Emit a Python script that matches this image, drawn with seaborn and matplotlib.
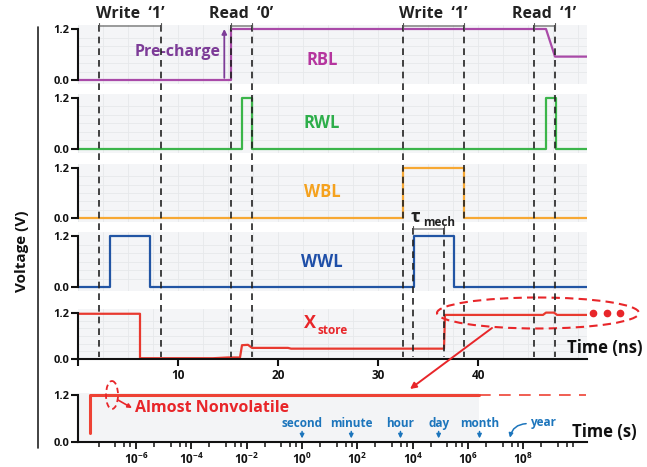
import matplotlib
matplotlib.use("Agg")
import matplotlib.pyplot as plt
from matplotlib.patches import Ellipse
from matplotlib.lines import Line2D
from matplotlib.ticker import FixedLocator, LogLocator, NullFormatter, MultipleLocator
import seaborn as sns

# --- Datos: formas de onda (ns, V) ---
t_rbl = [0, 15.3, 15.3, 46.8, 47.7, 50.9]
v_rbl = [0.0, 0.0, 1.2, 1.2, 0.55, 0.55]
t_rwl = [0, 16.4, 16.4, 17.4, 17.4, 46.8, 46.8, 47.8, 47.8, 50.9]
v_rwl = [0.0, 0.0, 1.2, 1.2, 0.0, 0.0, 1.2, 1.2, 0.0, 0.0]
t_wbl = [0, 32.5, 32.5, 38.6, 38.6, 50.9]
v_wbl = [0.0, 0.0, 1.2, 1.2, 0.0, 0.0]
t_wwl = [0, 3.2, 3.2, 7.2, 7.2, 33.6, 33.6, 37.6, 37.6, 50.9]
v_wwl = [0.0, 0.0, 1.2, 1.2, 0.0, 0.0, 1.2, 1.2, 0.0, 0.0]
t_xs = [0, 6.2, 6.2, 13.5, 15.0, 16.2, 16.4, 17.0, 17.4, 21.0, 21.3, 36.6, 36.7,
        46.5, 46.8, 47.6, 47.9, 50.9]
v_xs = [1.18, 1.18, 0.02, 0.02, 0.04, 0.04, 0.36, 0.37, 0.29, 0.29, 0.27, 0.27, 1.15,
        1.15, 1.21, 1.21, 1.15, 1.15]

# retencion (s, V)
t_ret = [2.2e-8, 2.2e-8, 2.4e6]
v_ret = [0.22, 1.2, 1.2]
t_ret_ext = [2.4e6, 1.8e10]
v_ret_ext = [1.2, 1.2]

events = [2.1, 8.3, 15.3, 17.4, 32.5, 38.6, 45.6, 47.7]
tau_mech = [33.5, 36.6]
ops = ["Write  \u20181\u2019", "Read  \u20180\u2019", "Write  \u20181\u2019", "Read  \u20181\u2019"]

marks = ["second", "minute", "hour", "day", "month", "year"]
mark_t = [1, 60, 3600, 86400, 2.6e6, 3.15e7]

W, H = 647, 467
X0, X1 = 78, 587
T_MAX = 50.9
LOG_LIM = (10 ** -8.1, 10 ** 10.3)

sns.set_style("ticks")
plt.rcParams["font.family"] = ["Open Sans", "DejaVu Sans"]
plt.rcParams["font.weight"] = "bold"
plt.rcParams["mathtext.fontset"] = "custom"
plt.rcParams["mathtext.rm"] = "Open Sans:bold"
plt.rcParams["mathtext.bf"] = "Open Sans:bold"
plt.rcParams["axes.linewidth"] = 1.5

fig = plt.figure(figsize=(W / 100, H / 100), dpi=100)


def add_panel(y12, y0, lo=-0.1, hi=1.3):
    pxv = (y0 - y12) / 1.2
    top = y12 - (hi - 1.2) * pxv
    bot = y0 - lo * pxv
    ax = fig.add_axes([X0 / W, 1 - bot / H, (X1 - X0) / W, (bot - top) / H])
    ax.set_ylim(lo, hi)
    return ax


def style_left(ax):
    for s in ["top", "right", "bottom"]:
        ax.spines[s].set_visible(False)
    ax.spines["left"].set_bounds(0, 1.2)
    ax.spines["left"].set_color("#111111")
    ax.set_yticks([0, 1.2])
    ax.set_yticklabels(["0.0", "1.2"])
    ax.tick_params(axis="y", which="major", length=5, width=1.5, labelsize=8,
                   colors="#111111", pad=1)
    ax.tick_params(which="minor", length=0)
    ax.set_xlabel("")
    ax.set_ylabel("")


panels = [
    ("RBL", t_rbl, v_rbl, "#A94AA8", "#B5359E", 29, 80, 0.47),
    ("RWL", t_rwl, v_rwl, "#3BB54A", "#2DAE4A", 98, 149, 0.6),
    ("WBL", t_wbl, v_wbl, "#F7A833", "#F5A21E", 168, 218, 0.63),
    ("WWL", t_wwl, v_wwl, "#2255A4", "#1F4FA8", 236, 287, 0.59),
]

axes = []
for name, t, v, col, lcol, y12, y0, ly in panels:
    ax = add_panel(y12, y0)
    ax.set_facecolor("#f4f5f7")
    ax.set_xlim(0, T_MAX)
    ax.xaxis.set_minor_locator(MultipleLocator(2.5))
    ax.yaxis.set_minor_locator(MultipleLocator(0.2))
    ax.grid(which="minor", color="#e6e8eb", lw=0.6)
    sns.lineplot(x=t, y=v, ax=ax, color=col, lw=1.6, estimator=None, sort=False)
    ax.set_xticks([])
    style_left(ax)
    ax.text(24.4, ly, name, color=lcol, fontsize=12, fontweight="bold",
            ha="center", va="center")
    axes.append(ax)

# panel Xstore con eje de tiempo
ax_x = add_panel(313, 359, lo=0.0)
ax_x.set_facecolor("#f4f5f7")
ax_x.set_xlim(0, T_MAX)
ax_x.xaxis.set_minor_locator(MultipleLocator(2.5))
ax_x.yaxis.set_minor_locator(MultipleLocator(0.2))
ax_x.grid(which="minor", color="#e6e8eb", lw=0.6)
sns.lineplot(x=t_xs, y=v_xs, ax=ax_x, color="#E8392F", lw=1.6, estimator=None, sort=False)
style_left(ax_x)
ax_x.spines["bottom"].set_visible(True)
ax_x.spines["bottom"].set_color("#111111")
ax_x.set_xticks([0, 10, 20, 30, 40])
ax_x.set_xticklabels(["", "10", "20", "30", "40"])
ax_x.tick_params(axis="x", which="major", length=5, width=1.5, labelsize=8.5,
                 colors="#111111", pad=2)

# panel de retencion (escala log)
ax_r = add_panel(395, 442, lo=0.0)
ax_r.set_facecolor("white")
ax_r.set_xscale("log")
ax_r.set_xlim(*LOG_LIM)
ax_r.axvspan(LOG_LIM[0], t_ret[-1], ymax=1.26 / 1.3, color="#f3f4f6", lw=0)
sns.lineplot(x=t_ret, y=v_ret, ax=ax_r, color="#EE4235", lw=2.2, estimator=None, sort=False)
ax_r.plot(t_ret_ext, v_ret_ext, color="#EE4235", lw=1.2, ls=(0, (7, 5)))
style_left(ax_r)
ax_r.spines["bottom"].set_visible(True)
ax_r.spines["bottom"].set_color("#111111")
ax_r.xaxis.set_major_locator(FixedLocator([10.0 ** k for k in range(-6, 9, 2)]))
ax_r.set_xticklabels([r"$\mathbf{10^{%d}}$" % k for k in range(-6, 9, 2)])
ax_r.xaxis.set_minor_locator(LogLocator(base=100, subs=[4.5, 18, 38, 62], numticks=20))
ax_r.xaxis.set_minor_formatter(NullFormatter())
ax_r.tick_params(axis="x", which="major", length=5, width=1.3, labelsize=8.5,
                 colors="#111111", pad=2)
ax_r.tick_params(axis="x", which="minor", length=3.5, width=1.1, color="#111111")

blue = "#1C75BC"
for lab, tm in zip(marks[:-1], mark_t[:-1]):
    ax_r.annotate("", xy=(tm, 0.02), xytext=(tm, 0.34),
                  arrowprops=dict(arrowstyle="-|>", color=blue, lw=1.1, mutation_scale=6))
    ax_r.text(tm, 0.48, lab, color=blue, fontsize=8.5, fontweight="bold",
              ha="center", va="center")
ax_r.annotate("", xy=(mark_t[-1], 0.04), xytext=(10 ** 8.2, 0.47),
              arrowprops=dict(arrowstyle="-|>", color=blue, lw=1.1, mutation_scale=6,
                              connectionstyle="arc3,rad=0.45"))
ax_r.text(10 ** 8.25, 0.5, marks[-1], color=blue, fontsize=8.5, fontweight="bold",
          ha="left", va="center")

# capa superior: x en ns, y en pixeles
ov = fig.add_axes([X0 / W, 0, (X1 - X0) / W, 1])
ov.set_xlim(0, T_MAX)
ov.set_ylim(H, 0)
ov.axis("off")
ov.patch.set_alpha(0)
ov.set_zorder(10)

ov.vlines(events, 25, 357, colors="#222222", linestyles=(0, (4, 3)), lw=1.2)
ov.vlines(tau_mech, 228, 357, colors="#222222", linestyles=(0, (4, 3)), lw=1.2)

for i, lab in enumerate(ops):
    a, b = events[2 * i], events[2 * i + 1]
    ov.text((a + b) / 2, 14, lab, fontsize=11.5, fontweight="bold", color="#222222",
            ha="center", va="center")
    ov.annotate("", xy=(a, 26), xytext=(b, 26),
                arrowprops=dict(arrowstyle="|-|", color="#555555", lw=0.8,
                                mutation_scale=2.5, shrinkA=0, shrinkB=0))

ov.annotate("", xy=(tau_mech[0], 229), xytext=(tau_mech[1], 229),
            arrowprops=dict(arrowstyle="|-|", color="#555555", lw=0.8,
                            mutation_scale=2.5, shrinkA=0, shrinkB=0))
ov.text(33.3, 217, "\u03c4", fontsize=13, fontweight="bold", color="#222222",
        ha="left", va="center")
ov.text(34.5, 222, "mech", fontsize=8.5, fontweight="bold", color="#222222",
        ha="left", va="center")

# Pre-charge
axes[0].annotate("", xy=(14.63, 1.2), xytext=(14.63, 0.05),
                 arrowprops=dict(arrowstyle="-|>", color="#7D3C98", lw=1.3,
                                 mutation_scale=7, shrinkA=0, shrinkB=0))
axes[0].text(10.0, 0.66, "Pre-charge", fontsize=11.5, fontweight="bold",
             color="#7D3C98", ha="center", va="center")

# Xstore
ov.text(22.6, 323, "X", fontsize=13, fontweight="bold", color="#E8262A",
        ha="left", va="center")
ov.text(24.0, 331, "store", fontsize=8.5, fontweight="bold", color="#E8262A",
        ha="left", va="center")

ov.add_patch(Ellipse((46.0, 313), 20.2, 31, fill=False, ec="#E8262A", lw=1.5,
                     ls=(0, (4, 2.5)), clip_on=False))
ov.plot([51.5, 52.9, 54.2], [313, 313, 313], "o", color="#E8262A", ms=4.5, clip_on=False)
ov.annotate("", xy=(33.2, 389), xytext=(41.4, 328),
            arrowprops=dict(arrowstyle="-|>", color="#E8262A", lw=1.4,
                            mutation_scale=9, shrinkA=0, shrinkB=0))

ov.add_patch(Ellipse((3.4, 395), 1.2, 28, fill=False, ec="#E8262A", lw=1.3,
                     ls=(0, (3, 2)), clip_on=False))
ov.annotate("", xy=(5.4, 408), xytext=(4.0, 400),
            arrowprops=dict(arrowstyle="-|>", color="#E8262A", lw=1.2,
                            mutation_scale=6, shrinkA=0, shrinkB=0))
ov.text(5.7, 408, "Almost Nonvolatile", fontsize=11.5, fontweight="bold",
        color="#E8262A", ha="left", va="center")

# flechas de los ejes de tiempo
for yy in [359, 442]:
    ov.annotate("", xy=(53.6, yy), xytext=(T_MAX - 0.05, yy),
                arrowprops=dict(arrowstyle="-|>", color="#111111", lw=1.5,
                                mutation_scale=8, shrinkA=0, shrinkB=0))
ov.text(48.9, 348, "Time (ns)", fontsize=12, fontweight="bold", color="#111111",
        ha="left", va="center")
ov.text(49.4, 432, "Time (s)", fontsize=12, fontweight="bold", color="#111111",
        ha="left", va="center")

fig.text(22 / W, 1 - 251 / H, "Voltage (V)", rotation=90, fontsize=11,
         fontweight="bold", color="#111111", ha="center", va="center")
fig.add_artist(Line2D([38 / W, 38 / W], [1 - 27 / H, 1 - 448 / H], color="#222222", lw=1.2))

fig.savefig("out.png", dpi=100)
plt.close(fig)
